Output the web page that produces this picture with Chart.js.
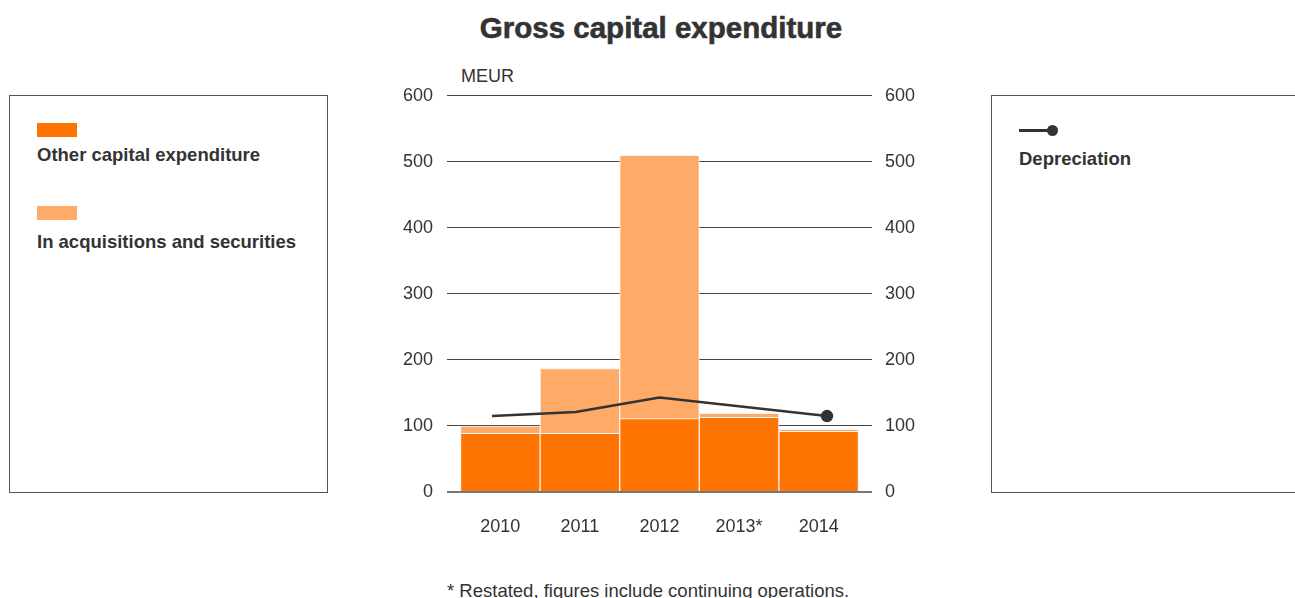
<!DOCTYPE html>
<html>
<head>
<meta charset="utf-8">
<script src="https://cdn.jsdelivr.net/npm/chart.js@4/dist/chart.umd.min.js"></script>
<style>
  html, body { margin:0; padding:0; }
  body { width:1295px; height:598px; overflow:hidden; background:#fff; position:relative;
         font-family:'Liberation Sans', Arial, Helvetica, sans-serif; color:#333; }
  .abs { position:absolute; }
  #title { left:0; width:1322px; top:11px; text-align:center; font-family:'Liberation Sans', Arial, sans-serif;
           font-weight:bold; font-size:29.5px; color:#333; line-height:34px; -webkit-text-stroke:0.6px #333; }
  .box { border:1px solid #555; box-sizing:border-box; }
  .lbl { font-weight:bold; font-size:18.5px; color:#333; line-height:20px; white-space:nowrap; }
  .sw { width:40px; height:14px; }
  #meur { left:461px; top:66px; font-size:18px; line-height:20px; color:#333; }
  #foot { left:447px; top:581px; font-size:18.5px; line-height:20px; color:#333; white-space:nowrap; }
  #wrap { left:380px; top:71px; width:560px; height:479px; }
</style>
</head>
<body>
<div id="title" class="abs">Gross capital expenditure</div>

<div class="abs box" style="left:9px;top:95px;width:319px;height:398px;"></div>
<div class="abs sw" id="sw1" style="left:37px;top:123px;"></div>
<div class="abs lbl" id="lg1" style="left:37px;top:145px;"></div>
<div class="abs sw" id="sw2" style="left:37px;top:206px;"></div>
<div class="abs lbl" id="lg2" style="left:37px;top:232px;"></div>

<div class="abs box" style="left:991px;top:95px;width:330px;height:398px;"></div>
<div class="abs" style="left:1019px;top:129px;width:33px;height:3px;background:#333;"></div>
<div class="abs" style="left:1047px;top:125px;width:11px;height:11px;border-radius:50%;background:#333;"></div>
<div class="abs lbl" id="lg3" style="left:1019px;top:149px;"></div>

<div id="meur" class="abs">MEUR</div>
<div id="wrap" class="abs"><canvas id="c"></canvas></div>
<div id="foot" class="abs">* Restated, figures include continuing operations.</div>

<script>
const categories = ['2010', '2011', '2012', '2013*', '2014'];
const otherCapex = [89, 89, 111, 113, 92];
const acquisitions = [11, 98, 399, 6, 3];
const depreciation = [115, 121, 143, 129, 115];
const yTicks = [0, 100, 200, 300, 400, 500, 600];
const seriesNames = ['Other capital expenditure', 'In acquisitions and securities', 'Depreciation'];

const colDark = '#FF7300';
const colLight = '#FFAA66';
const colLine = '#333333';

document.getElementById('sw1').style.background = colDark;
document.getElementById('sw2').style.background = colLight;
document.getElementById('lg1').textContent = seriesNames[0];
document.getElementById('lg2').textContent = seriesNames[1];
document.getElementById('lg3').textContent = seriesNames[2];

const font = { family: "'Liberation Sans', Arial, sans-serif", size: 18 };

new Chart(document.getElementById('c'), {
  data: {
    datasets: [
      {
        type: 'bar', label: seriesNames[0],
        data: otherCapex.map((v, i) => ({ x: i, y: v })),
        backgroundColor: colDark, borderColor: '#f4f4f4', borderWidth: 1,
        barPercentage: 1, categoryPercentage: 1, grouped: false, stack: 's', xAxisID: 'x', yAxisID: 'y', order: 2
      },
      {
        type: 'bar', label: seriesNames[1],
        data: acquisitions.map((v, i) => ({ x: i, y: v })),
        backgroundColor: colLight, borderColor: '#f4f4f4', borderWidth: 1,
        barPercentage: 1, categoryPercentage: 1, grouped: false, stack: 's', xAxisID: 'x', yAxisID: 'y', order: 2
      },
      {
        type: 'line', label: seriesNames[2],
        data: depreciation.map((v, i) => ({ x: i, y: v })),
        borderColor: colLine, backgroundColor: colLine, borderWidth: 2.5,
        pointRadius: depreciation.map((v, i) => i === depreciation.length - 1 ? 5 : 0),
        pointHoverRadius: 0, tension: 0, xAxisID: 'x2', yAxisID: 'y1', order: 1
      }
    ]
  },
  options: {
    responsive: true, maintainAspectRatio: false, animation: false,
    events: [],
    layout: { padding: { top: 0, left: 0, right: 0, bottom: 0 } },
    plugins: { legend: { display: false }, tooltip: { enabled: false }, title: { display: false } },
    scales: {
      x: {
        type: 'linear', stacked: true, min: -0.67, max: 4.67, offset: false,
        grid: { display: false, drawTicks: false }, border: { display: false },
        afterBuildTicks: s => { s.ticks = categories.map((_, i) => ({ value: i })); },
        afterFit: s => { s.height = 58; },
        ticks: { callback: v => categories[v], color: '#333', font, padding: 24, maxRotation: 0, autoSkip: false }
      },
      x2: {
        type: 'linear', display: false, min: -0.537, max: 4.537
      },
      y: {
        position: 'left', stacked: true, min: 0, max: 600,
        afterBuildTicks: s => { s.ticks = yTicks.map(v => ({ value: v })); },
        afterFit: s => { s.width = 67; },
        grid: { color: ctx => ctx.tick && ctx.tick.value === 0 ? '#777' : '#444', lineWidth: ctx => ctx.tick && ctx.tick.value === 0 ? 2 : 1, drawTicks: false },
        border: { display: false },
        ticks: { color: '#333', font, padding: 14 }
      },
      y1: {
        position: 'right', min: 0, max: 600,
        afterBuildTicks: s => { s.ticks = yTicks.map(v => ({ value: v })); },
        afterFit: s => { s.width = 68; },
        grid: { display: false, drawTicks: false },
        border: { display: false },
        ticks: { color: '#333', font, padding: 13 }
      }
    }
  }
});
</script>
</body>
</html>
